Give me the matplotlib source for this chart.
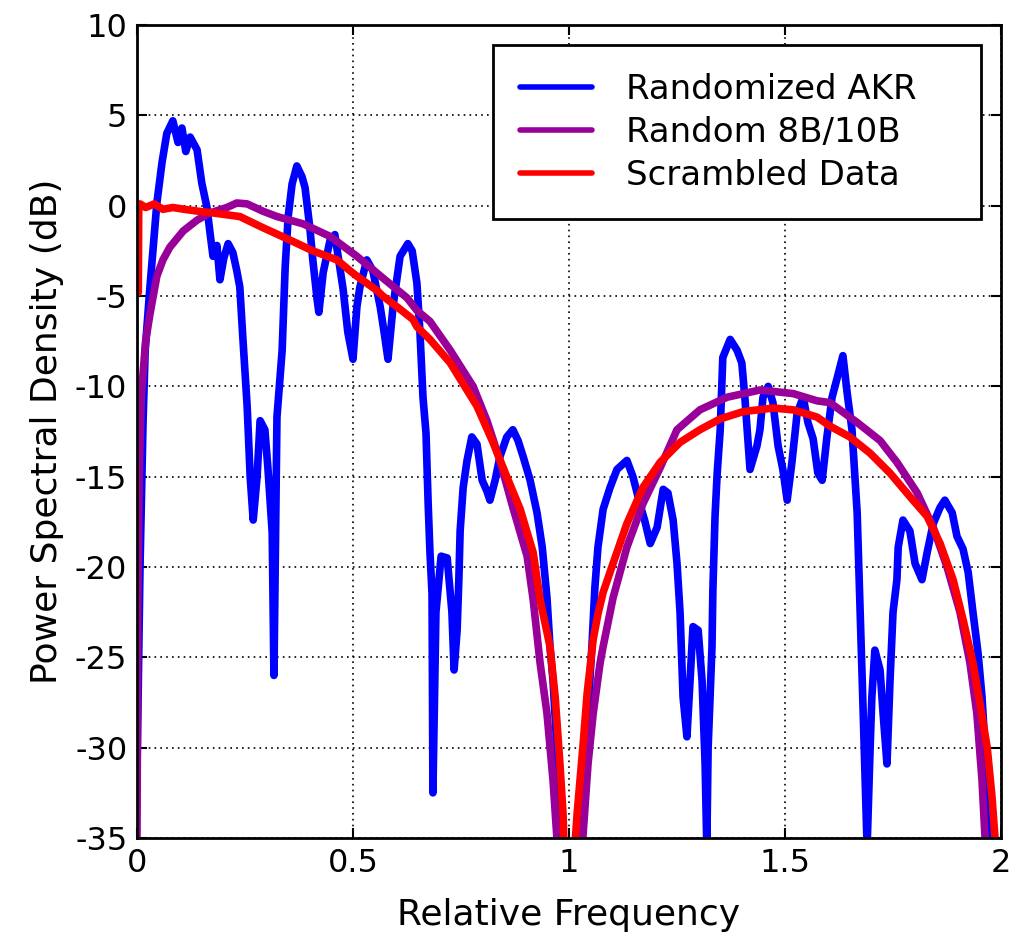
import matplotlib
matplotlib.use("Agg")
import matplotlib.pyplot as plt

plt.rcParams["font.family"] = ["DejaVu Sans"]
plt.rcParams["axes.unicode_minus"] = False

# Randomized AKR (blue)
akr_x = [0.000, 0.007, 0.014, 0.019, 0.030, 0.046, 0.058, 0.069, 0.083, 0.095,
         0.104, 0.113, 0.123, 0.139, 0.150, 0.162, 0.169, 0.176, 0.185, 0.192,
         0.201, 0.211, 0.222, 0.231, 0.238, 0.245, 0.255, 0.262, 0.269, 0.278,
         0.285, 0.296, 0.303, 0.313, 0.317, 0.324, 0.336, 0.343, 0.350, 0.359,
         0.370, 0.382, 0.389, 0.400, 0.407, 0.417, 0.421, 0.431, 0.447, 0.458,
         0.477, 0.488, 0.500, 0.509, 0.516, 0.532, 0.546, 0.563, 0.572, 0.581,
         0.593, 0.609, 0.627, 0.637, 0.648, 0.655, 0.662, 0.669, 0.674, 0.678,
         0.683, 0.685, 0.692, 0.704, 0.718, 0.729, 0.734, 0.741, 0.745, 0.748,
         0.755, 0.764, 0.775, 0.787, 0.799, 0.810, 0.817, 0.829, 0.840, 0.856,
         0.870, 0.882, 0.894, 0.910, 0.926, 0.938, 0.949, 0.956, 0.963, 0.972,
         0.979, 0.986, 1.000, 1.020,
         1.025, 1.044, 1.053, 1.060, 1.067, 1.079, 1.095, 1.111, 1.134, 1.148,
         1.164, 1.176, 1.188, 1.204, 1.218, 1.229, 1.241, 1.250, 1.257, 1.264,
         1.273, 1.280, 1.287, 1.299, 1.308, 1.315, 1.319, 1.322, 1.331, 1.333,
         1.338, 1.343, 1.350, 1.356, 1.373, 1.389, 1.400, 1.407, 1.419, 1.435,
         1.442, 1.449, 1.461, 1.472, 1.484, 1.495, 1.505, 1.516, 1.528, 1.542,
         1.553, 1.565, 1.576, 1.586, 1.597, 1.609, 1.620, 1.634, 1.644, 1.655,
         1.667, 1.674, 1.681, 1.690, 1.697, 1.701, 1.708, 1.720, 1.727, 1.736,
         1.743, 1.750, 1.759, 1.762, 1.773, 1.789, 1.801, 1.817, 1.829, 1.843,
         1.859, 1.870, 1.887, 1.898, 1.912, 1.924, 1.935, 1.947, 1.956, 1.963,
         1.970, 1.977]
akr_y = [-31.5, -20.0, -12.0, -8.0, -4.5, 0.15, 2.4, 4.0, 4.7, 3.5,
         4.3, 3.0, 3.8, 3.1, 1.25, -0.1, -1.5, -2.8, -2.2, -4.1,
         -2.9, -2.1, -2.6, -3.6, -4.5, -7.3, -11.1, -15.0, -17.4, -15.0,
         -11.9, -12.4, -14.5, -18.1, -26.0, -11.7, -8.0, -3.4, -0.6, 1.2,
         2.2, 1.6, 1.0, -1.2, -3.0, -5.2, -5.9, -3.7, -1.9, -1.6,
         -4.6, -7.0, -8.5, -5.6, -4.5, -3.0, -3.6, -5.6, -7.0, -8.5,
         -5.5, -2.8, -2.1, -2.5, -4.3, -7.0, -10.6, -12.6, -16.5, -19.1,
         -21.5, -32.5, -22.5, -19.4, -19.5, -22.5, -25.7, -23.5, -20.7, -18.0,
         -15.6, -14.1, -12.8, -13.2, -15.2, -15.8, -16.3, -15.2, -13.9, -12.8,
         -12.4, -13.0, -13.9, -15.2, -17.0, -18.9, -21.7, -24.4, -26.3, -30.0,
         -33.6, -37.0, -50.0, -40.0,
         -35.5, -27.9, -24.4, -21.1, -18.9, -16.8, -15.6, -14.6, -14.1, -15.0,
         -16.5, -17.5, -18.7, -17.8, -15.7, -15.9, -17.4, -19.8, -22.5, -27.2,
         -29.4, -26.3, -23.3, -23.5, -26.3, -30.9, -35.5, -30.0, -24.4, -21.3,
         -17.2, -14.8, -12.4, -8.4, -7.4, -8.0, -8.7, -10.6, -14.6, -13.3,
         -12.4, -10.6, -10.0, -10.9, -13.3, -14.6, -16.3, -14.2, -11.5, -10.6,
         -12.0, -12.9, -14.8, -15.2, -12.8, -10.6, -9.6, -8.3, -10.4, -12.4,
         -17.0, -22.5, -28.1, -35.5, -30.0, -27.2, -24.6, -25.7, -28.1, -30.9,
         -26.3, -22.5, -20.7, -18.9, -17.4, -18.0, -19.8, -20.7, -19.2, -17.6,
         -16.7, -16.3, -17.0, -18.3, -19.0, -20.3, -22.5, -24.8, -27.2, -30.0,
         -33.6, -37.0]

# Random 8B/10B (purple)
enc_x = [0.000, 0.002, 0.005, 0.010, 0.020, 0.030, 0.046, 0.060, 0.076, 0.107,
         0.139, 0.169, 0.208, 0.231, 0.255, 0.291, 0.324, 0.384, 0.447, 0.509,
         0.569, 0.625, 0.648, 0.678, 0.725, 0.778, 0.810, 0.840, 0.870, 0.903,
         0.917, 0.933, 0.949, 0.963, 0.972, 0.985, 1.000, 1.015,
         1.032, 1.044, 1.056, 1.072, 1.079, 1.102, 1.134, 1.171, 1.211, 1.250,
         1.303, 1.366, 1.442, 1.519, 1.574, 1.604, 1.667, 1.720, 1.759, 1.806,
         1.843, 1.875, 1.905, 1.928, 1.944, 1.956, 1.963, 1.975]
enc_y = [-35.0, -22.0, -15.0, -10.5, -7.5, -6.0, -3.9, -3.0, -2.3, -1.4,
         -0.8, -0.4, -0.1, 0.15, 0.1, -0.3, -0.6, -1.0, -1.7, -2.8,
         -4.0, -5.1, -5.8, -6.4, -8.0, -10.0, -11.9, -14.1, -16.7, -19.4,
         -21.8, -25.3, -28.1, -31.8, -35.0, -42.0, -55.0, -42.0,
         -35.0, -30.9, -28.1, -25.3, -24.4, -21.7, -18.9, -16.5, -14.5, -12.4,
         -11.3, -10.6, -10.2, -10.4, -10.8, -10.9, -12.0, -13.0, -14.2, -15.9,
         -17.8, -20.0, -22.5, -25.3, -28.1, -31.8, -35.0, -42.0]

# Scrambled Data (red)
scr_x = [0.003, 0.004, 0.007, 0.020, 0.040, 0.060, 0.083, 0.110, 0.140, 0.176,
         0.238, 0.290, 0.354, 0.407, 0.463, 0.493, 0.509, 0.556, 0.569, 0.602,
         0.639, 0.648, 0.678, 0.725, 0.787, 0.824, 0.856, 0.887, 0.917, 0.933,
         0.956, 0.968, 0.979, 0.986, 0.992, 1.000, 1.008,
         1.012, 1.019, 1.032, 1.042, 1.056, 1.067, 1.079, 1.102, 1.134, 1.171,
         1.211, 1.257, 1.303, 1.350, 1.403, 1.472, 1.519, 1.574, 1.604, 1.650,
         1.697, 1.743, 1.789, 1.829, 1.859, 1.889, 1.912, 1.935, 1.951, 1.968,
         1.979, 1.986, 1.995]
scr_y = [-4.8, -0.1, 0.1, -0.1, 0.1, -0.2, -0.1, -0.2, -0.3, -0.4,
         -0.6, -1.2, -1.9, -2.5, -3.0, -3.6, -3.9, -4.7, -5.0, -5.6,
         -6.3, -6.7, -7.4, -8.7, -11.1, -13.1, -15.0, -16.8, -19.2, -21.8,
         -24.4, -27.2, -30.9, -33.6, -38.0, -55.0, -38.0,
         -36.0, -33.6, -30.0, -27.0, -24.0, -22.6, -21.4, -19.8, -17.6, -15.6,
         -14.2, -13.1, -12.4, -11.8, -11.4, -11.2, -11.3, -11.7, -12.2, -12.8,
         -13.7, -14.8, -16.1, -17.2, -18.7, -20.7, -22.9, -25.3, -27.5, -30.0,
         -32.7, -35.0, -40.0]

series = [
    ("Randomized AKR", akr_x, akr_y, "#0000ff"),
    ("Random 8B/10B", enc_x, enc_y, "#990099"),
    ("Scrambled Data", scr_x, scr_y, "#ff0000"),
]

fig = plt.figure(figsize=(10.2, 9.38), dpi=100)
ax = fig.add_axes([0.1343, 0.1066, 0.8471, 0.8667])

for label, xs, ys, color in series:
    ax.plot(xs, ys, color=color, lw=5.5, label=label,
            solid_joinstyle="round", solid_capstyle="round")

ax.set_xlim(0, 2)
ax.set_ylim(-35, 10)
ax.set_xticks([0, 0.5, 1, 1.5, 2])
ax.set_xticklabels(["0", "0.5", "1", "1.5", "2"])
ax.set_yticks(range(-35, 11, 5))
ax.grid(True, color="black", linestyle=(0, (1, 2.5)), linewidth=1.2)
ax.set_axisbelow(True)
ax.tick_params(direction="in", length=7, width=1.5, labelsize=23,
               top=True, right=True, pad=7)
for s in ax.spines.values():
    s.set_linewidth(2)

ax.set_xlabel("Relative Frequency", fontsize=26, labelpad=14)
ax.set_ylabel("Power Spectral Density (dB)", fontsize=26, labelpad=8)

# legend box spans a fixed width like the MATLAB original
leg = ax.legend(loc="upper left", bbox_to_anchor=(0.412, 0.975, 0.565, 0.0),
                mode="expand", borderaxespad=0, fontsize=24.5, frameon=True,
                fancybox=False, edgecolor="black", handlelength=2.1,
                handletextpad=1.0, labelspacing=0.3, borderpad=0.8)
leg.get_frame().set_linewidth(2)
leg.get_frame().set_alpha(1)
for h in leg.get_lines():
    h.set_linewidth(4)

fig.savefig("out.png", dpi=100)
